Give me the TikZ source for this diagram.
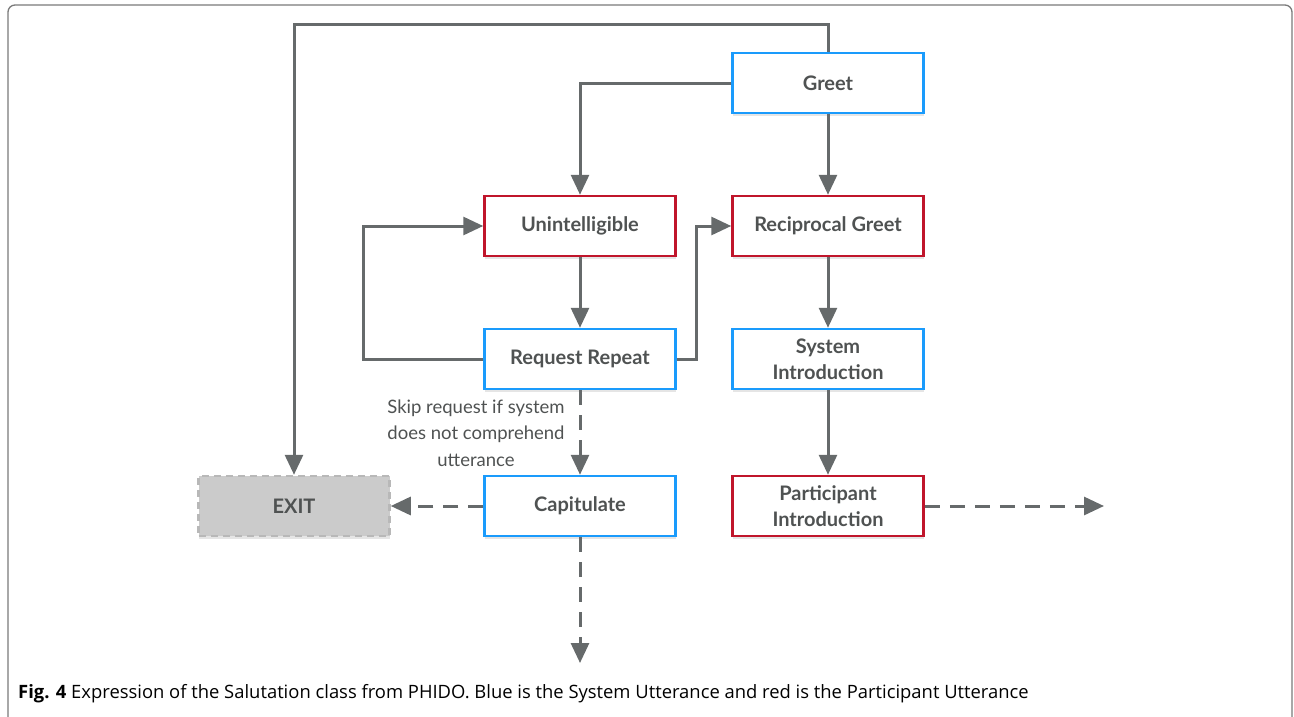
\documentclass[tikz,border=0pt]{standalone}
\usepackage{fontspec}
\setmainfont{Lato}
\newfontfamily\capfont{Open Sans}
\usetikzlibrary{arrows.meta,shadows}

\definecolor{linegray}{HTML}{666A6B}
\definecolor{sysblue}{HTML}{1A9BFC}
\definecolor{partred}{HTML}{C0152B}
\definecolor{txtgray}{HTML}{4F5252}
\definecolor{exitfill}{HTML}{CBCBCB}
\definecolor{exitedge}{HTML}{B8B8B8}
\definecolor{framegray}{HTML}{7A7A7A}

\tikzset{
  box/.style={draw, line width=2.5pt, fill=white, minimum width=191pt,
    minimum height=60pt, inner sep=0pt, align=center, text=txtgray,
    font=\fontsize{20}{26}\selectfont\bfseries,
    drop shadow={shadow xshift=0pt, shadow yshift=-3pt, fill=black, opacity=0.10}},
  sysbox/.style={box, draw=sysblue},
  partbox/.style={box, draw=partred},
  exitbox/.style={box, draw=exitedge, fill=exitfill, dash pattern=on 7pt off 5pt},
  flow/.style={draw=linegray, line width=3pt, -{Triangle[length=20pt,width=18pt]}},
  altflow/.style={flow, dash pattern=on 15pt off 10pt},
  note/.style={align=center, text=txtgray, font=\fontsize{18.5}{26.5}\selectfont}
}

\begin{document}
\begin{tikzpicture}[x=1pt, y=-1pt]
  \useasboundingbox (0,0) rectangle (1294,716);
  \draw[framegray, line width=1.3pt, rounded corners=7pt] (8,5) rectangle (1292,724);

  % dialogue states
  \node[sysbox]  (greet)   at (828,83)  {Greet};
  \node[partbox] (unint)   at (580,226) {Unintelligible};
  \node[partbox] (recip)   at (828,226) {Reciprocal Greet};
  \node[sysbox]  (reqrep)  at (580,359) {Request Repeat};
  \node[sysbox]  (sysintro) at (828,359) {System\\Introduction};
  \node[exitbox] (exit)    at (294,506) {EXIT};
  \node[sysbox]  (capit)   at (580,506) {Capitulate};
  \node[partbox] (partintro) at (828,506) {Participant\\Introduction};

  \coordinate (capout)  at (580,663);
  \coordinate (partout) at (1104,506);

  % transitions
  \draw[flow] (greet.north) -- ++(0,-27) -| (exit.north);
  \draw[flow] (greet.west) -| (unint.north);
  \draw[flow] (greet) -- (recip);
  \draw[flow] (unint) -- (reqrep);
  \draw[flow] (reqrep.west) -- ++(-120,0) |- (unint.west);
  \draw[flow] (reqrep.east) -- ++(20,0) |- (recip.west);
  \draw[flow] (recip) -- (sysintro);
  \draw[flow] (sysintro) -- (partintro);

  \draw[altflow] (reqrep) -- (capit);
  \node[note] (skipnote) at (476,433) {Skip request if system\\does not comprehend\\utterance};
  \draw[altflow] (capit) -- (exit);
  \draw[altflow] (capit.south) -- (capout);
  \draw[altflow] (partintro.east) -- (partout);

  % caption
  \node[anchor=base west, inner sep=0pt, text=black] (caption) at (18,698)
    {\capfont\fontsize{18.4}{22}\selectfont\textbf{Fig. 4} Expression of the Salutation class from PHIDO. Blue is the System Utterance and red is the Participant Utterance};
\end{tikzpicture}
\end{document}
